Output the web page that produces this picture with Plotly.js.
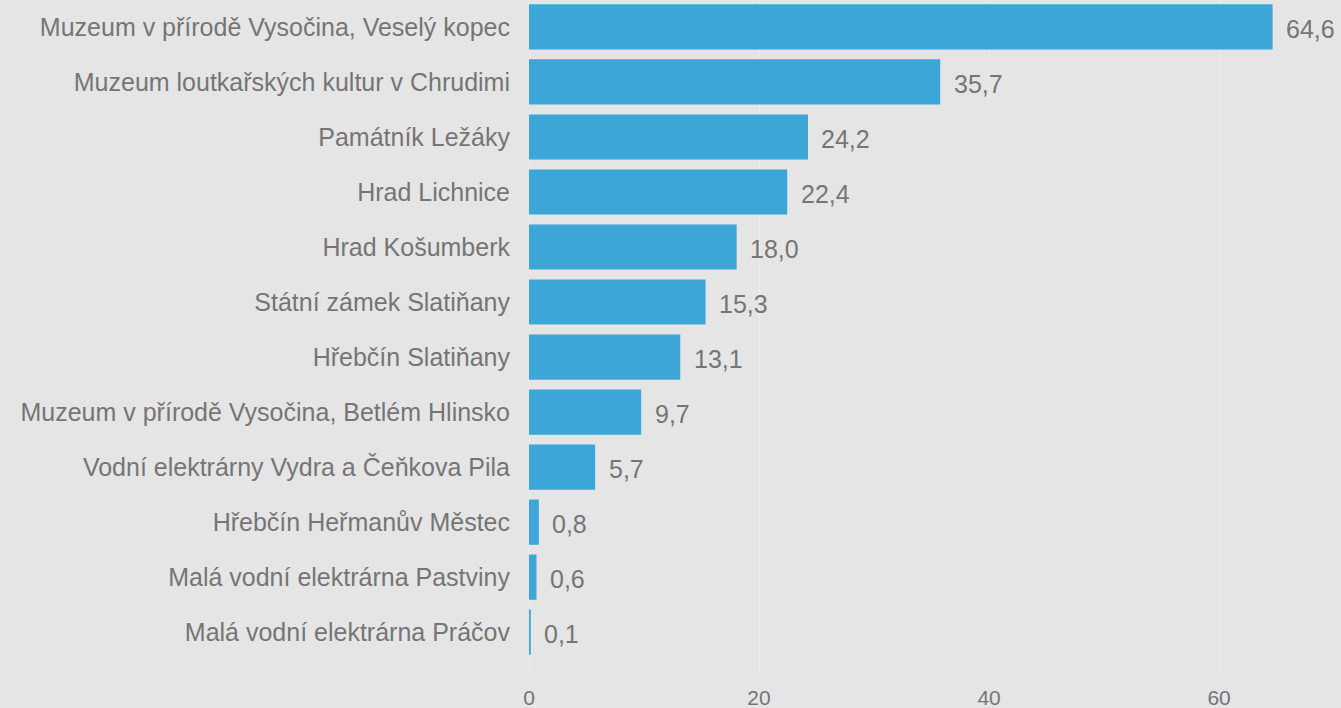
<!DOCTYPE html>
<html>
<head>
<meta charset="utf-8">
<script src="https://cdn.plot.ly/plotly-3.0.1.min.js"></script>
<style>html,body{margin:0;padding:0;background:#e5e5e5;}#chart{width:1341px;height:708px;}</style>
</head>
<body>
<div id="chart"></div>
<script>
const categories = [
  "Muzeum v přírodě Vysočina, Veselý kopec",
  "Muzeum loutkařských kultur v Chrudimi",
  "Památník Ležáky",
  "Hrad Lichnice",
  "Hrad Košumberk",
  "Státní zámek Slatiňany",
  "Hřebčín Slatiňany",
  "Muzeum v přírodě Vysočina, Betlém Hlinsko",
  "Vodní elektrárny Vydra a Čeňkova Pila",
  "Hřebčín Heřmanův Městec",
  "Malá vodní elektrárna Pastviny",
  "Malá vodní elektrárna Práčov"
];
const values = [64.6, 35.7, 24.2, 22.4, 18.0, 15.3, 13.1, 9.7, 5.7, 0.8, 0.6, 0.1];
const tickValues = [0, 20, 40, 60];

const fmt = v => v.toFixed(1).replace('.', ',');
const annotations = categories.map((c, i) => ({
  x: values[i], y: c, xref: 'x', yref: 'y',
  text: fmt(values[i]), showarrow: false,
  xanchor: 'left', xshift: 12, yshift: -2,
  font: {family: 'Liberation Sans, Arial, sans-serif', size: 25, color: '#757575'}
}));

Plotly.newPlot('chart', [{
  type: 'bar', orientation: 'h',
  x: values, y: categories,
  marker: {color: '#3ca6d6', line: {color: '#3ca6d6', width: 1.2}},
  width: 0.8, hoverinfo: 'x+y'
}], {
  width: 1341, height: 708,
  paper_bgcolor: '#e5e5e5', plot_bgcolor: '#e5e5e5',
  margin: {l: 529, r: 0, t: 0, b: 33, pad: 0},
  showlegend: false,
  separators: ', ',
  font: {family: 'Liberation Sans, Arial, sans-serif', color: '#757575'},
  xaxis: {
    range: [0, 70.6], tickvals: tickValues, ticktext: tickValues.map(String),
    showgrid: true, gridcolor: '#ececec', gridwidth: 1,
    zeroline: true, zerolinecolor: '#ececec', zerolinewidth: 1,
    showline: false, ticks: '', ticklabelstandoff: 8,
    tickfont: {size: 21, color: '#757575'}, automargin: false, fixedrange: true
  },
  yaxis: {
    type: 'category', categoryorder: 'array', categoryarray: categories,
    range: [11.78, -0.49], showgrid: false, zeroline: false, showline: false,
    ticks: '', ticklabelstandoff: 18,
    tickfont: {size: 25, color: '#757575'}, automargin: false, fixedrange: true
  },
  annotations: annotations
}, {displayModeBar: false, staticPlot: true});
</script>
</body>
</html>
